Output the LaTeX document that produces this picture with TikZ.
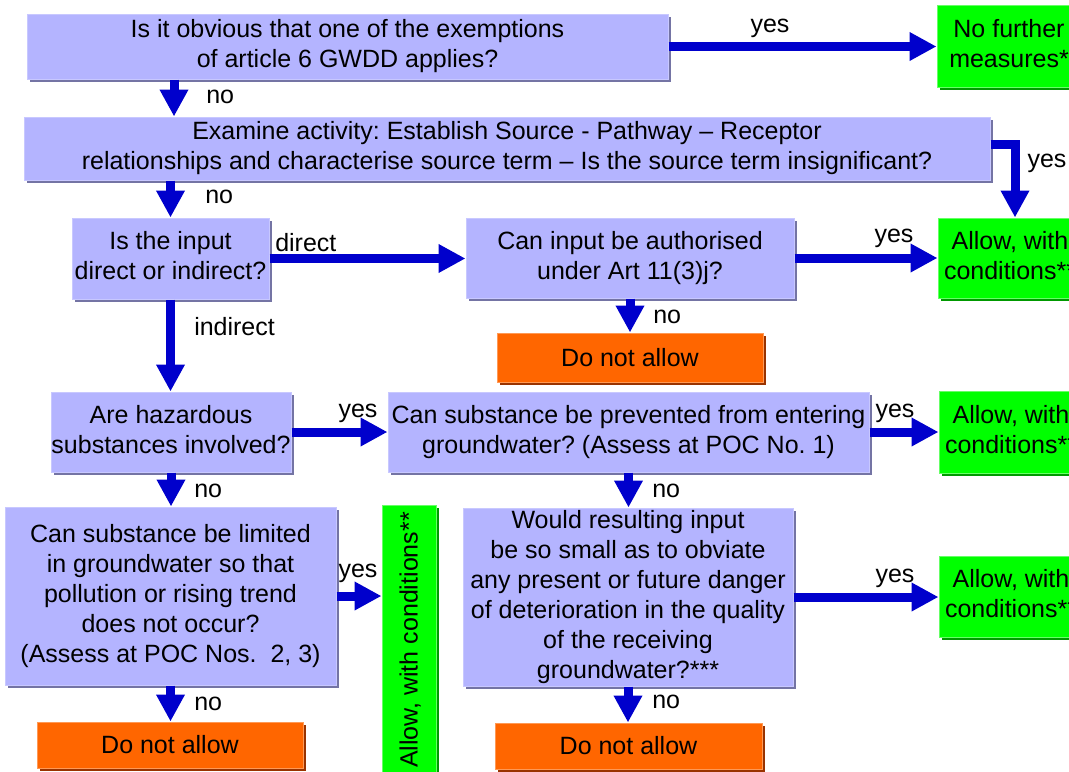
\documentclass[tikz,border=0pt]{standalone}
\usepackage{fontspec}
\setmainfont{Liberation Sans}
\usetikzlibrary{arrows.meta,shadows}
\definecolor{lav}{HTML}{B4B4FF}
\definecolor{lavedge}{HTML}{C8C8FF}
\definecolor{lavshadow}{HTML}{7474A4}
\definecolor{grn}{HTML}{00FF00}
\definecolor{grnedge}{HTML}{66FF66}
\definecolor{grnshadow}{HTML}{009900}
\definecolor{org}{HTML}{FF6600}
\definecolor{orgedge}{HTML}{FF9955}
\definecolor{orgshadow}{HTML}{993300}
\definecolor{arrblue}{HTML}{0000CC}
\newdimen\dimpx \dimpx=0.75pt
\newcommand\mystrut{\rule[-0.212em]{0pt}{1.117em}}
\frenchspacing
\begin{document}
\begin{tikzpicture}[x=0.75pt,y=-0.75pt,
  every node/.style={font=\fontsize{18.75pt}{22.5pt}\selectfont},
  basebox/.style={rectangle, inner sep=0pt, line width=0.75pt, align=center,
     execute at begin node=\mystrut, execute at end node=\mystrut},
  sz/.style n args={2}{minimum width=#1\dimpx, minimum height=#2\dimpx},
  qbox/.style={basebox, fill=lav, draw=lavedge,
     drop shadow={shadow xshift=2.25pt, shadow yshift=-2.25pt, fill=lavshadow, opacity=1}},
  gbox/.style={basebox, fill=grn, draw=grnedge,
     drop shadow={shadow xshift=2.25pt, shadow yshift=-2.25pt, fill=grnshadow, opacity=1}},
  obox/.style={basebox, fill=org, draw=orgedge,
     drop shadow={shadow xshift=2.25pt, shadow yshift=-2.25pt, fill=orgshadow, opacity=1}},
  arr/.style={draw=arrblue, line width=6.75pt, line join=miter,
     -{Triangle[length=20.25pt,width=20.25pt]}},
  lbl/.style={anchor=base, inner sep=0pt},
  lblw/.style={anchor=base west, inner sep=0pt},
]
\useasboundingbox (0,0) rectangle (1069,771);
\clip (0,0) rectangle (1069,771);
\fill[white] (0,0) rectangle (1069,771);

% boxes
\node[qbox, sz={641}{65}] (b1) at (347.5,46.5) {Is it obvious that one of the exemptions\\of article 6 GWDD applies?};
\node[gbox, sz={144}{82}] (g1) at (1009,46) {No further\\measures*};
\node[qbox, sz={966}{63}] (b2) at (507,148.5) {Examine activity: Establish Source - Pathway – Receptor\\relationships and characterise source term – Is the source term insignificant?};
\node[qbox, sz={197}{81}] (b3) at (170.5,258.5) {Is the input\\direct or indirect?};
\node[qbox, sz={328}{80}] (b4) at (630,258) {Can input be authorised\\under Art 11(3)j?};
\node[gbox, sz={144}{80}] (g2) at (1010,258) {Allow, with\\conditions**};
\node[obox, sz={266}{49}] (o1) at (630,357.5) {Do not allow};
\node[qbox, sz={240}{80}] (b5) at (171,432) {Are hazardous\\substances involved?};
\node[qbox, sz={481}{80}] (b6) at (628.5,432) {Can substance be prevented from entering\\groundwater? (Assess at POC No. 1)};
\node[gbox, sz={144}{82}] (g3) at (1011,432) {Allow, with\\conditions**};
\node[qbox, sz={331}{178}] (b7) at (170.5,596) {Can substance be limited\\in groundwater so that\\pollution or rising trend\\does not occur?\\(Assess at POC Nos.\ \ 2, 3)};
\node[gbox, rotate=90, sz={270}{54}] (gv) at (409,640) {Allow, with conditions**};
\node[qbox, sz={330}{178}] (b8) at (628,597) {Would resulting input\\be so small as to obviate\\any present or future danger\\of deterioration in the quality\\of the receiving\\groundwater?***};
\node[gbox, sz={144}{81}] (g4) at (1011,596.5) {Allow, with\\conditions**};
\node[obox, sz={266}{46}] (o2) at (170,745) {Do not allow};
\node[obox, sz={267}{46}] (o3) at (628.5,746) {Do not allow};

% helper coordinates
\coordinate (c1) at (174,0);
\coordinate (e1) at (1015,144);

% connectors
\draw[arr] (b1.east) -- (b1.east -| g1.west);
\draw[arr] (b1.south -| c1) -- (b2.north -| c1);
\draw[arr] (b2.east |- e1) -- (e1) -- (e1 |- g2.north);
\draw[arr] (b2.south -| b3.north) -- (b3.north);
\draw[arr] (b3.east) -- (b3.east -| b4.west);
\draw[arr] (b4.east) -- (b4.east -| g2.west);
\draw[arr] (b4.south) -- (o1.north);
\draw[arr] (b3.south) -- (b3.south |- b5.north);
\draw[arr] (b5.east) -- (b5.east -| b6.west);
\draw[arr] (b6.east) -- (b6.east -| g3.west);
\draw[arr] (b5.south) -- (b5.south |- b7.north);
\draw[arr] (b6.south) -- (b6.south |- b8.north);
\draw[arr] (b7.east) -- (b7.east -| gv.north);
\draw[arr] (b8.east) -- (b8.east -| g4.west);
\draw[arr] (b7.south) -- (b7.south |- o2.north);
\draw[arr] (b8.south) -- (b8.south |- o3.north);

% labels
\node[lbl] (l1) at (770,32) {yes};
\node[lblw] (l2) at (206,103) {no};
\node[lblw] (l3) at (205,203) {no};
\node[lbl] (l4) at (1047,167) {yes};
\node[lblw] (l5) at (275,251) {direct};
\node[lbl] (l6) at (894,242) {yes};
\node[lblw] (l7) at (653,323) {no};
\node[lblw] (l8) at (194,335) {indirect};
\node[lbl] (l9) at (358,417) {yes};
\node[lbl] (l10) at (895,417) {yes};
\node[lblw] (l11) at (194,497) {no};
\node[lblw] (l12) at (652,497) {no};
\node[lbl] (l13) at (358,577) {yes};
\node[lbl] (l14) at (895,582) {yes};
\node[lblw] (l15) at (194,710) {no};
\node[lblw] (l16) at (652,708) {no};
\end{tikzpicture}
\end{document}
